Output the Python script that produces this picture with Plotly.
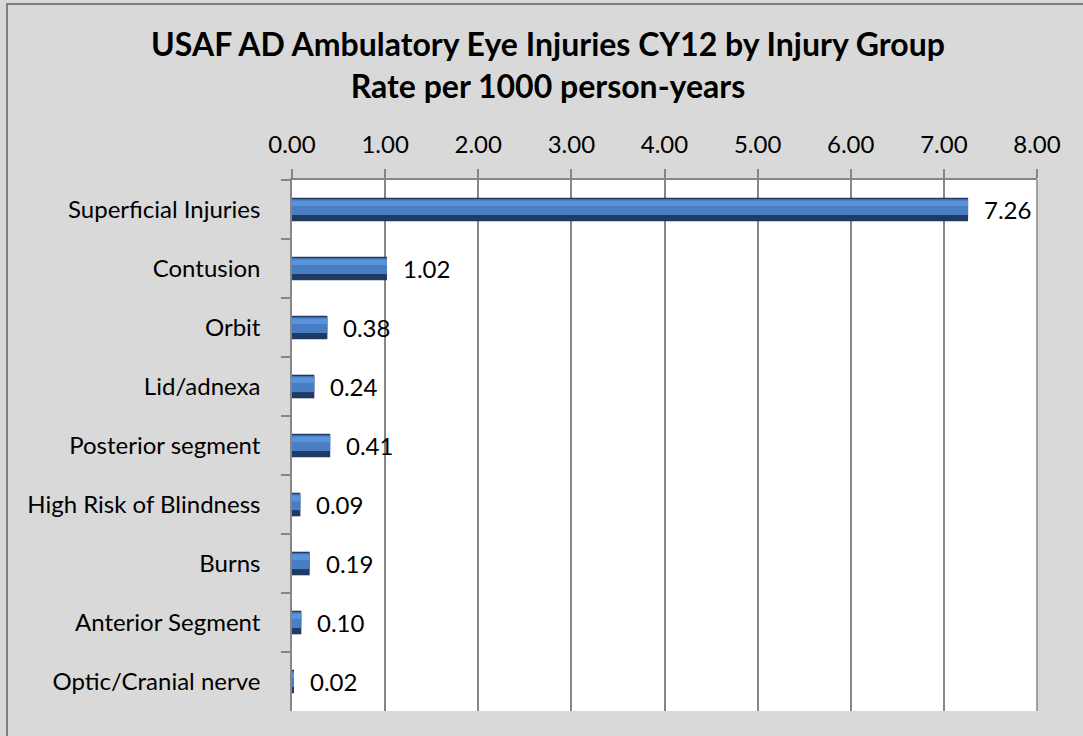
import plotly.graph_objects as go

categories = ["Superficial Injuries", "Contusion", "Orbit", "Lid/adnexa",
              "Posterior segment", "High Risk of Blindness", "Burns",
              "Anterior Segment", "Optic/Cranial nerve"]
rates = [7.26, 1.02, 0.38, 0.24, 0.41, 0.09, 0.19, 0.10, 0.02]
tick_vals = [0, 1, 2, 3, 4, 5, 6, 7, 8]
tick_text = ["0.00", "1.00", "2.00", "3.00", "4.00", "5.00", "6.00", "7.00", "8.00"]

FONT = "Lato"
GRID = "#868686"
FS = 24

fig = go.Figure()
# dark base (bevel edge)
fig.add_trace(go.Bar(
    x=rates, y=categories, orientation="h", width=0.40,
    marker=dict(color="#1f3b63", line=dict(width=0)),
    hoverinfo="skip",
))
# main face
fig.add_trace(go.Bar(
    x=rates, y=categories, orientation="h", width=0.27, offset=-0.175,
    marker=dict(color="#4a7ec4", line=dict(width=0)),
    hoverinfo="skip",
))
# highlight
fig.add_trace(go.Bar(
    x=rates, y=categories, orientation="h", width=0.09, offset=-0.15,
    marker=dict(color="#5a93da", line=dict(width=0)),
    hoverinfo="skip",
))

annotations = [
    dict(x=v, y=c, xref="x", yref="y", text=f"{v:.2f}", showarrow=False,
         xanchor="left", yanchor="middle", xshift=14,
         font=dict(family=FONT, size=FS, color="#000000"))
    for c, v in zip(categories, rates)
]

fig.update_layout(
    width=1083, height=736,
    barmode="overlay",
    showlegend=False,
    paper_bgcolor="#d9d9d9",
    plot_bgcolor="#ffffff",
    margin=dict(l=292, r=46, t=180, b=25),
    font=dict(family=FONT, size=FS, color="#000000"),
    title=dict(
        text="<b>USAF AD Ambulatory Eye Injuries CY12 by Injury Group<br>Rate per 1000 person-years</b>",
        x=0.506, xanchor="center", xref="container",
        y=0.924, yanchor="top", yref="container",
        font=dict(family=FONT, size=32, color="#000000"),
    ),
    xaxis=dict(
        side="top", range=[0, 8], tickvals=tick_vals, ticktext=tick_text,
        showgrid=True, gridcolor=GRID, gridwidth=1.5,
        ticks="outside", ticklen=9, tickcolor=GRID, tickwidth=1.5,
        showline=True, linecolor=GRID, linewidth=1.5, mirror=False,
        zeroline=False, ticklabelstandoff=7,
        tickfont=dict(family=FONT, size=FS),
    ),
    yaxis=dict(
        autorange="reversed", type="category",
        tickson="boundaries", ticks="outside", ticklen=9,
        tickcolor=GRID, tickwidth=1.5,
        showline=True, linecolor=GRID, linewidth=1.5,
        showgrid=False, ticklabelstandoff=25,
        tickfont=dict(family=FONT, size=FS),
    ),
    annotations=annotations,
    shapes=[
        dict(type="line", xref="paper", yref="paper",
             x0=1, x1=1, y0=0, y1=1, line=dict(color=GRID, width=1.5)),
        dict(type="rect", xref="paper", yref="paper",
             x0=(7 - 292) / 745, x1=(1100 - 292) / 745,
             y0=(711 - 750) / 531, y1=(711 - 4) / 531,
             line=dict(color="#7f7f7f", width=2), layer="below"),
    ],
)

fig.write_html(
    "out.html",
    config={"displayModeBar": False},
    post_script="document.body.style.margin='0';document.body.style.background='#d9d9d9';",
)
